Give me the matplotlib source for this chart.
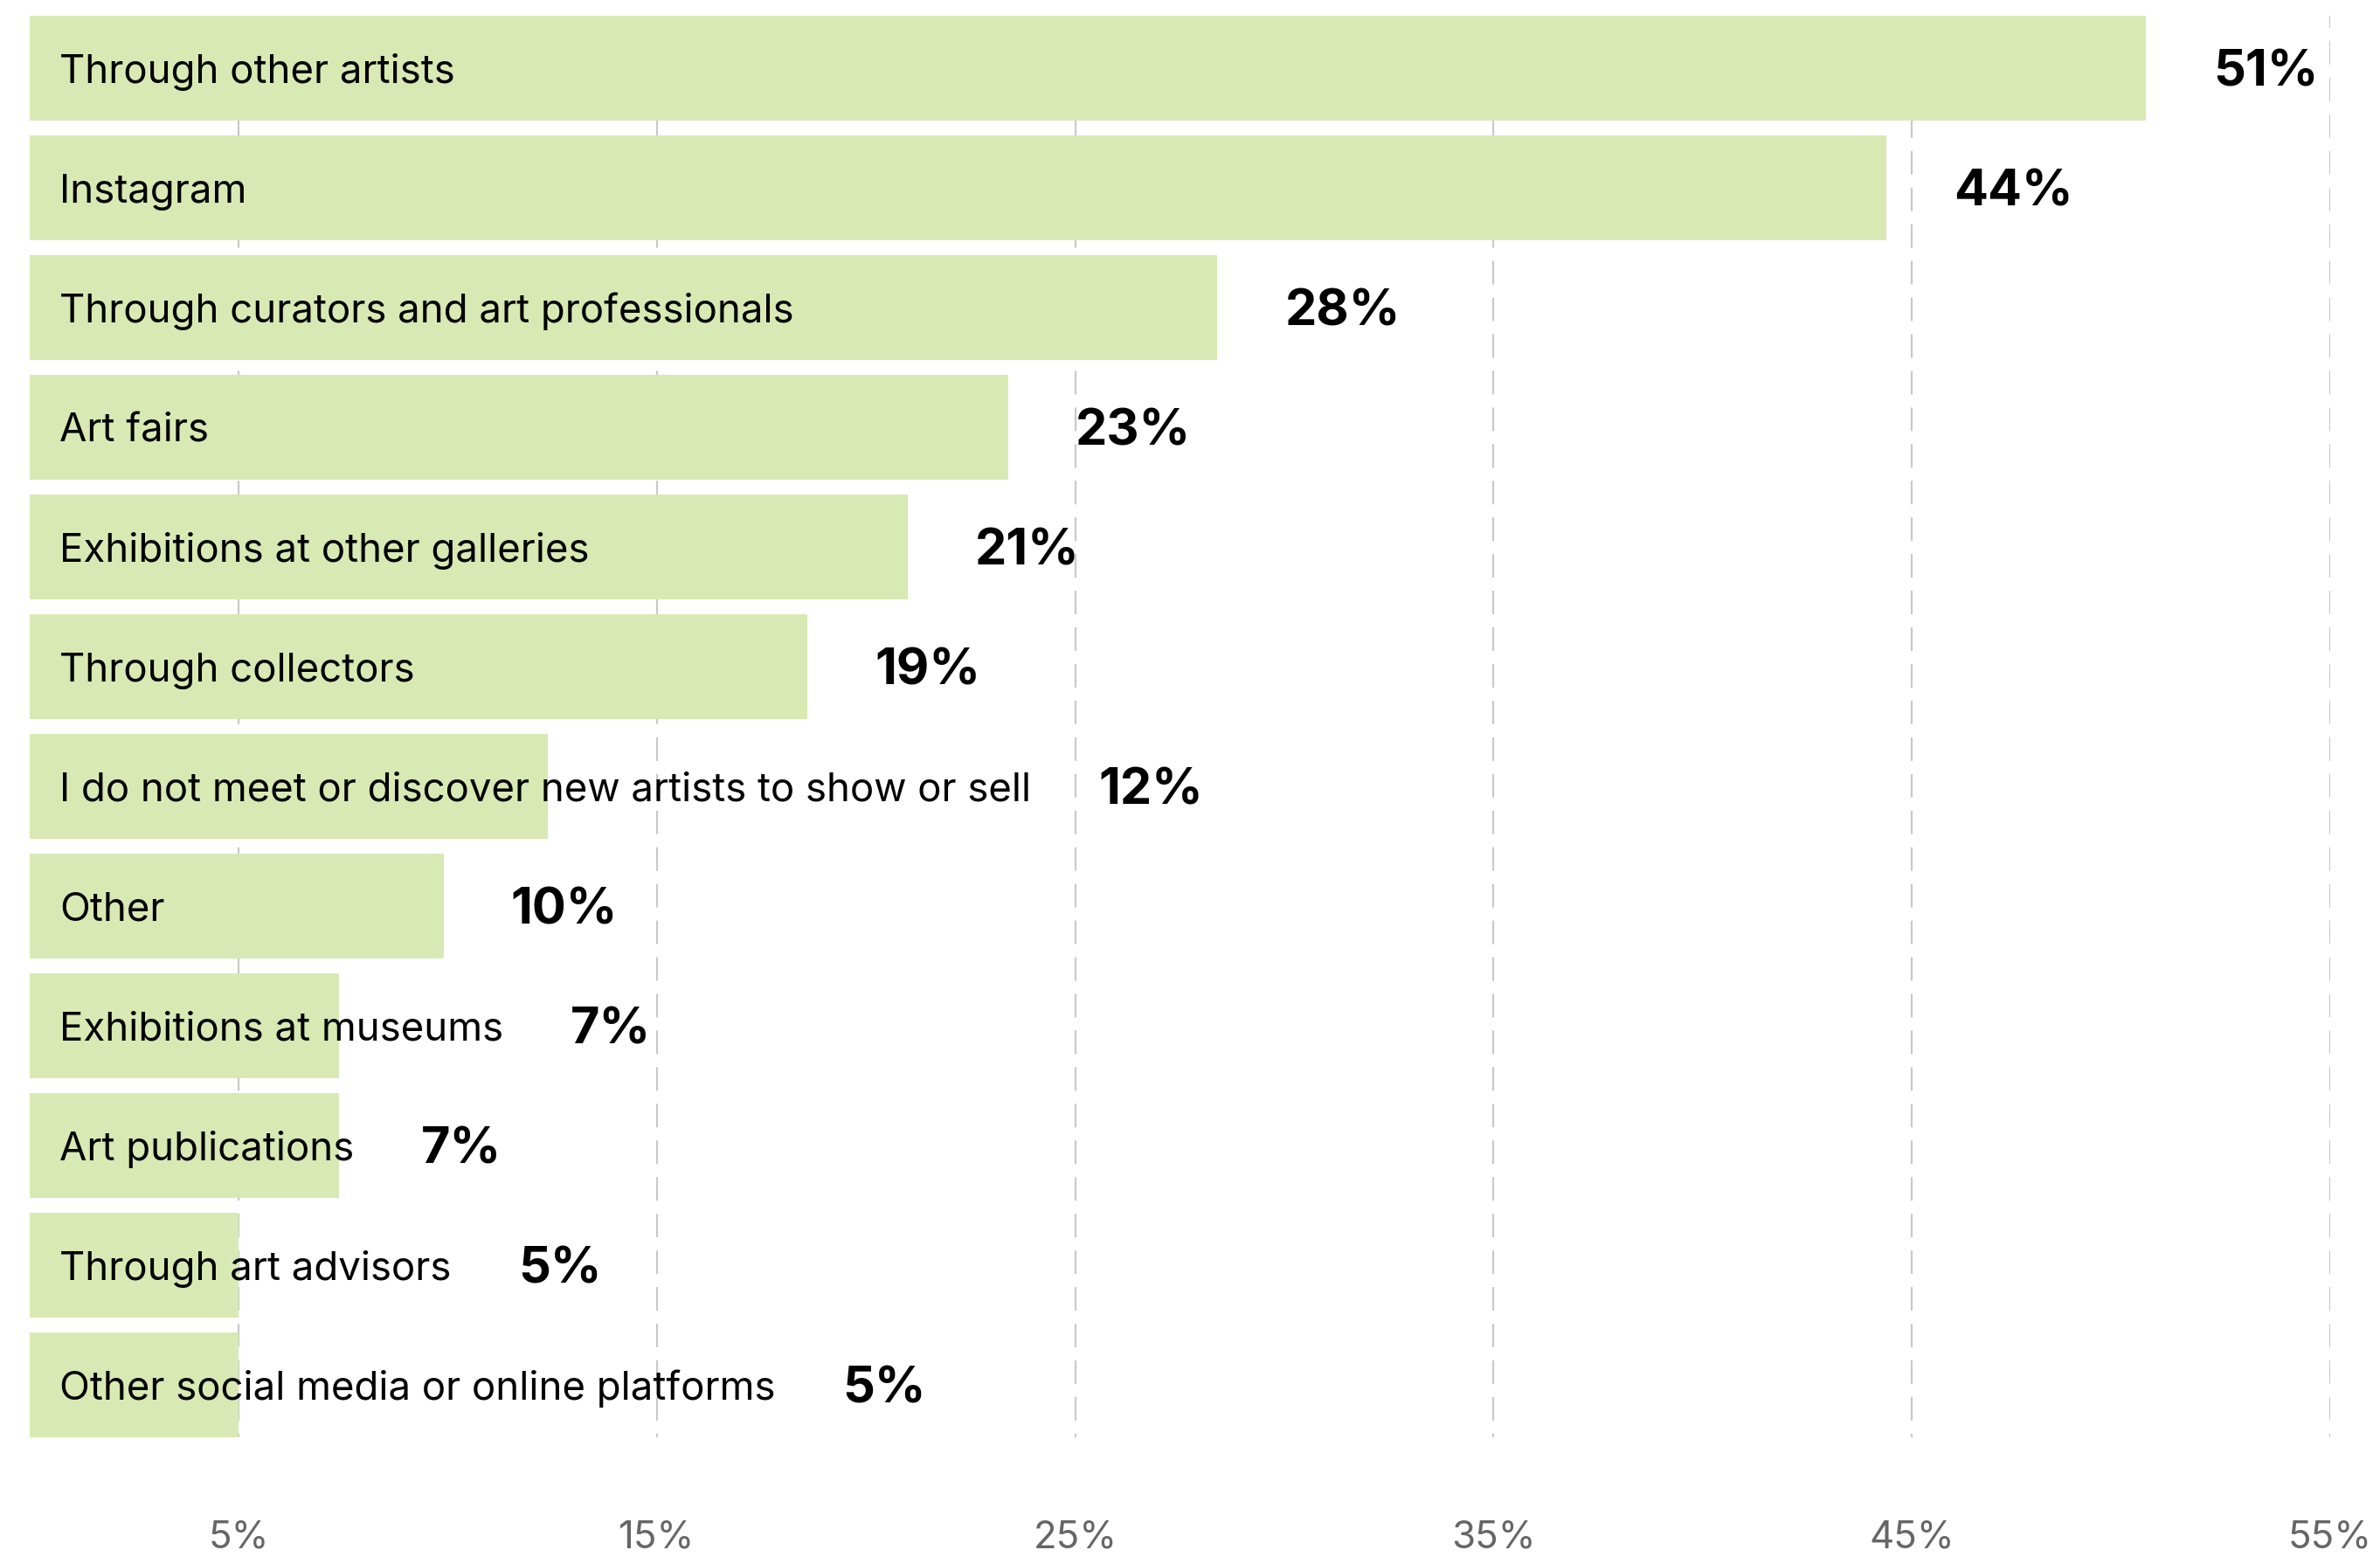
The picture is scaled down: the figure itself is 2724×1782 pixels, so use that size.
import matplotlib
matplotlib.use("Agg")
import matplotlib.pyplot as plt

# Survey responses: how galleries meet or discover new artists (% of respondents)
categories = [
    "Through other artists",
    "Instagram",
    "Through curators and art professionals",
    "Art fairs",
    "Exhibitions at other galleries",
    "Through collectors",
    "I do not meet or discover new artists to show or sell",
    "Other",
    "Exhibitions at museums",
    "Art publications",
    "Through art advisors",
    "Other social media or online platforms",
]
shares = [50.6, 44.4, 28.4, 23.4, 21.0, 18.6, 12.4, 9.9, 7.4, 7.4, 5.0, 5.0]
tick_values = [5, 15, 25, 35, 45, 55]
tick_labels = ["5%", "15%", "25%", "35%", "45%", "55%"]

BAR_COLOR = "#d9e9b4"
GRID_COLOR = "#c9c9c9"
TICK_COLOR = "#666666"
TEXT_COLOR = "#000000"

plt.rcParams["font.family"] = ["Inter", "DejaVu Sans"]

DPI = 100
W, H = 2724, 1782
fig = plt.figure(figsize=(W / DPI, H / DPI), dpi=DPI)

# axes box in pixels: x from 0% to 55%, y covering the bar stack
x0_px, x1_px = 33.6, 2667.0
top_px, bot_px = 18.0, 1645.0
ax = fig.add_axes([x0_px / W, 1 - bot_px / H, (x1_px - x0_px) / W, (bot_px - top_px) / H])

bar_h = 120 / 137
ypos = list(range(len(categories)))
ax.barh(ypos, shares, height=bar_h, color=BAR_COLOR, zorder=2, linewidth=0)

ax.set_xlim(0, 55)
ax.set_ylim(len(categories) - 1 + bar_h / 2, -bar_h / 2)

# dashed vertical guides, drawn top to bottom behind the bars
lw = 1.6
for v in tick_values:
    ax.axvline(v, ymin=1, ymax=0, color=GRID_COLOR, lw=lw, zorder=0,
               linestyle=(13 * 0.72 / lw, (19.4 / lw, 10.8 / lw)))

ax.set_xticks(tick_values)
ax.set_xticklabels(tick_labels)
ax.tick_params(axis="x", length=0, pad=68, labelsize=31.5, labelcolor=TICK_COLOR)
ax.set_yticks([])
for s in ax.spines.values():
    s.set_visible(False)

CAT_SIZE = 32.8
VAL_SIZE = 41.5
CAP = 0.727  # cap height / em

cat_texts = []
for i, name in enumerate(categories):
    t = ax.annotate(name, xy=(0, i), xytext=(34.4 * 0.72, -CAP * CAT_SIZE / 2),
                    textcoords="offset points", ha="left", va="baseline",
                    fontsize=CAT_SIZE, color=TEXT_COLOR, zorder=3)
    cat_texts.append(t)

fig.canvas.draw()
renderer = fig.canvas.get_renderer()
inv = ax.transData.inverted()

# value labels sit a fixed gap past whichever ends later: the bar or its name
GAP_PX = 77
for i, (t, v) in enumerate(zip(cat_texts, shares)):
    text_end = t.get_window_extent(renderer).x1
    bar_end = ax.transData.transform((v, i))[0]
    x_disp = max(text_end, bar_end) + GAP_PX
    x_data = inv.transform((x_disp, 0))[0]
    ax.annotate(f"{v:.0f}%", xy=(x_data, i), xytext=(0, -CAP * VAL_SIZE / 2),
                textcoords="offset points", ha="left", va="baseline",
                fontsize=VAL_SIZE, fontweight="bold", color=TEXT_COLOR, zorder=3)

fig.savefig("out.png", dpi=DPI, facecolor="white")
